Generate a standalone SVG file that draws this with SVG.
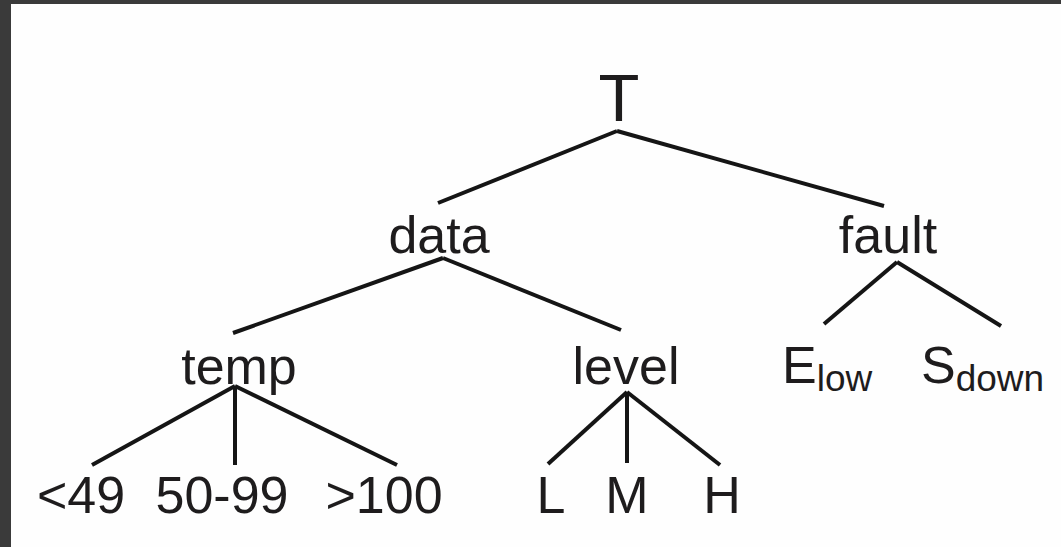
<svg xmlns="http://www.w3.org/2000/svg" width="1061" height="547" viewBox="0 0 1061 547">
<style>
text{font-family:"Liberation Sans",Arial,sans-serif;fill:#1e1c1d;font-size:52px}
.mid{text-anchor:middle}
.sub{font-size:37px}
#edges line{stroke:#151515;stroke-width:4;stroke-linecap:butt}
</style>
<rect x="0" y="0" width="1061" height="547" fill="#3a3a3a"/>
<rect x="11" y="4" width="1050" height="543" fill="#fefefe"/>
<g id="edges">
<line x1="617" y1="131" x2="438" y2="203"/>
<line x1="617" y1="131" x2="884" y2="206"/>
<line x1="443" y1="258" x2="233" y2="333"/>
<line x1="443" y1="258" x2="621" y2="330"/>
<line x1="897" y1="262" x2="824" y2="324"/>
<line x1="897" y1="262" x2="1001" y2="326"/>
<line x1="235" y1="386" x2="92" y2="465"/>
<line x1="235" y1="386" x2="235" y2="465"/>
<line x1="235" y1="386" x2="397" y2="465"/>
<line x1="627" y1="392" x2="548" y2="464"/>
<line x1="627" y1="392" x2="627" y2="463"/>
<line x1="627" y1="392" x2="720" y2="465"/>
</g>
<g id="T"><text class="mid" x="619" y="121" style="font-size:67px">T</text></g>
<g id="data"><text class="mid" x="439" y="253">data</text></g>
<g id="fault"><text class="mid" x="888" y="253">fault</text></g>
<g id="temp"><text class="mid" x="239" y="384">temp</text></g>
<g id="level"><text class="mid" x="626" y="384">level</text></g>
<g id="Elow"><text x="782" y="383">E<tspan class="sub" dy="8">low</tspan></text></g>
<g id="Sdown"><text x="921" y="383">S<tspan class="sub" dy="8">down</tspan></text></g>
<g id="lt49"><text class="mid" x="81" y="513">&lt;49</text></g>
<g id="r50"><text class="mid" x="222" y="513">50-99</text></g>
<g id="gt100"><text class="mid" x="384" y="513">&gt;100</text></g>
<g id="L"><text class="mid" x="551" y="513">L</text></g>
<g id="M"><text class="mid" x="627" y="513">M</text></g>
<g id="H"><text class="mid" x="722" y="513">H</text></g>
</svg>
